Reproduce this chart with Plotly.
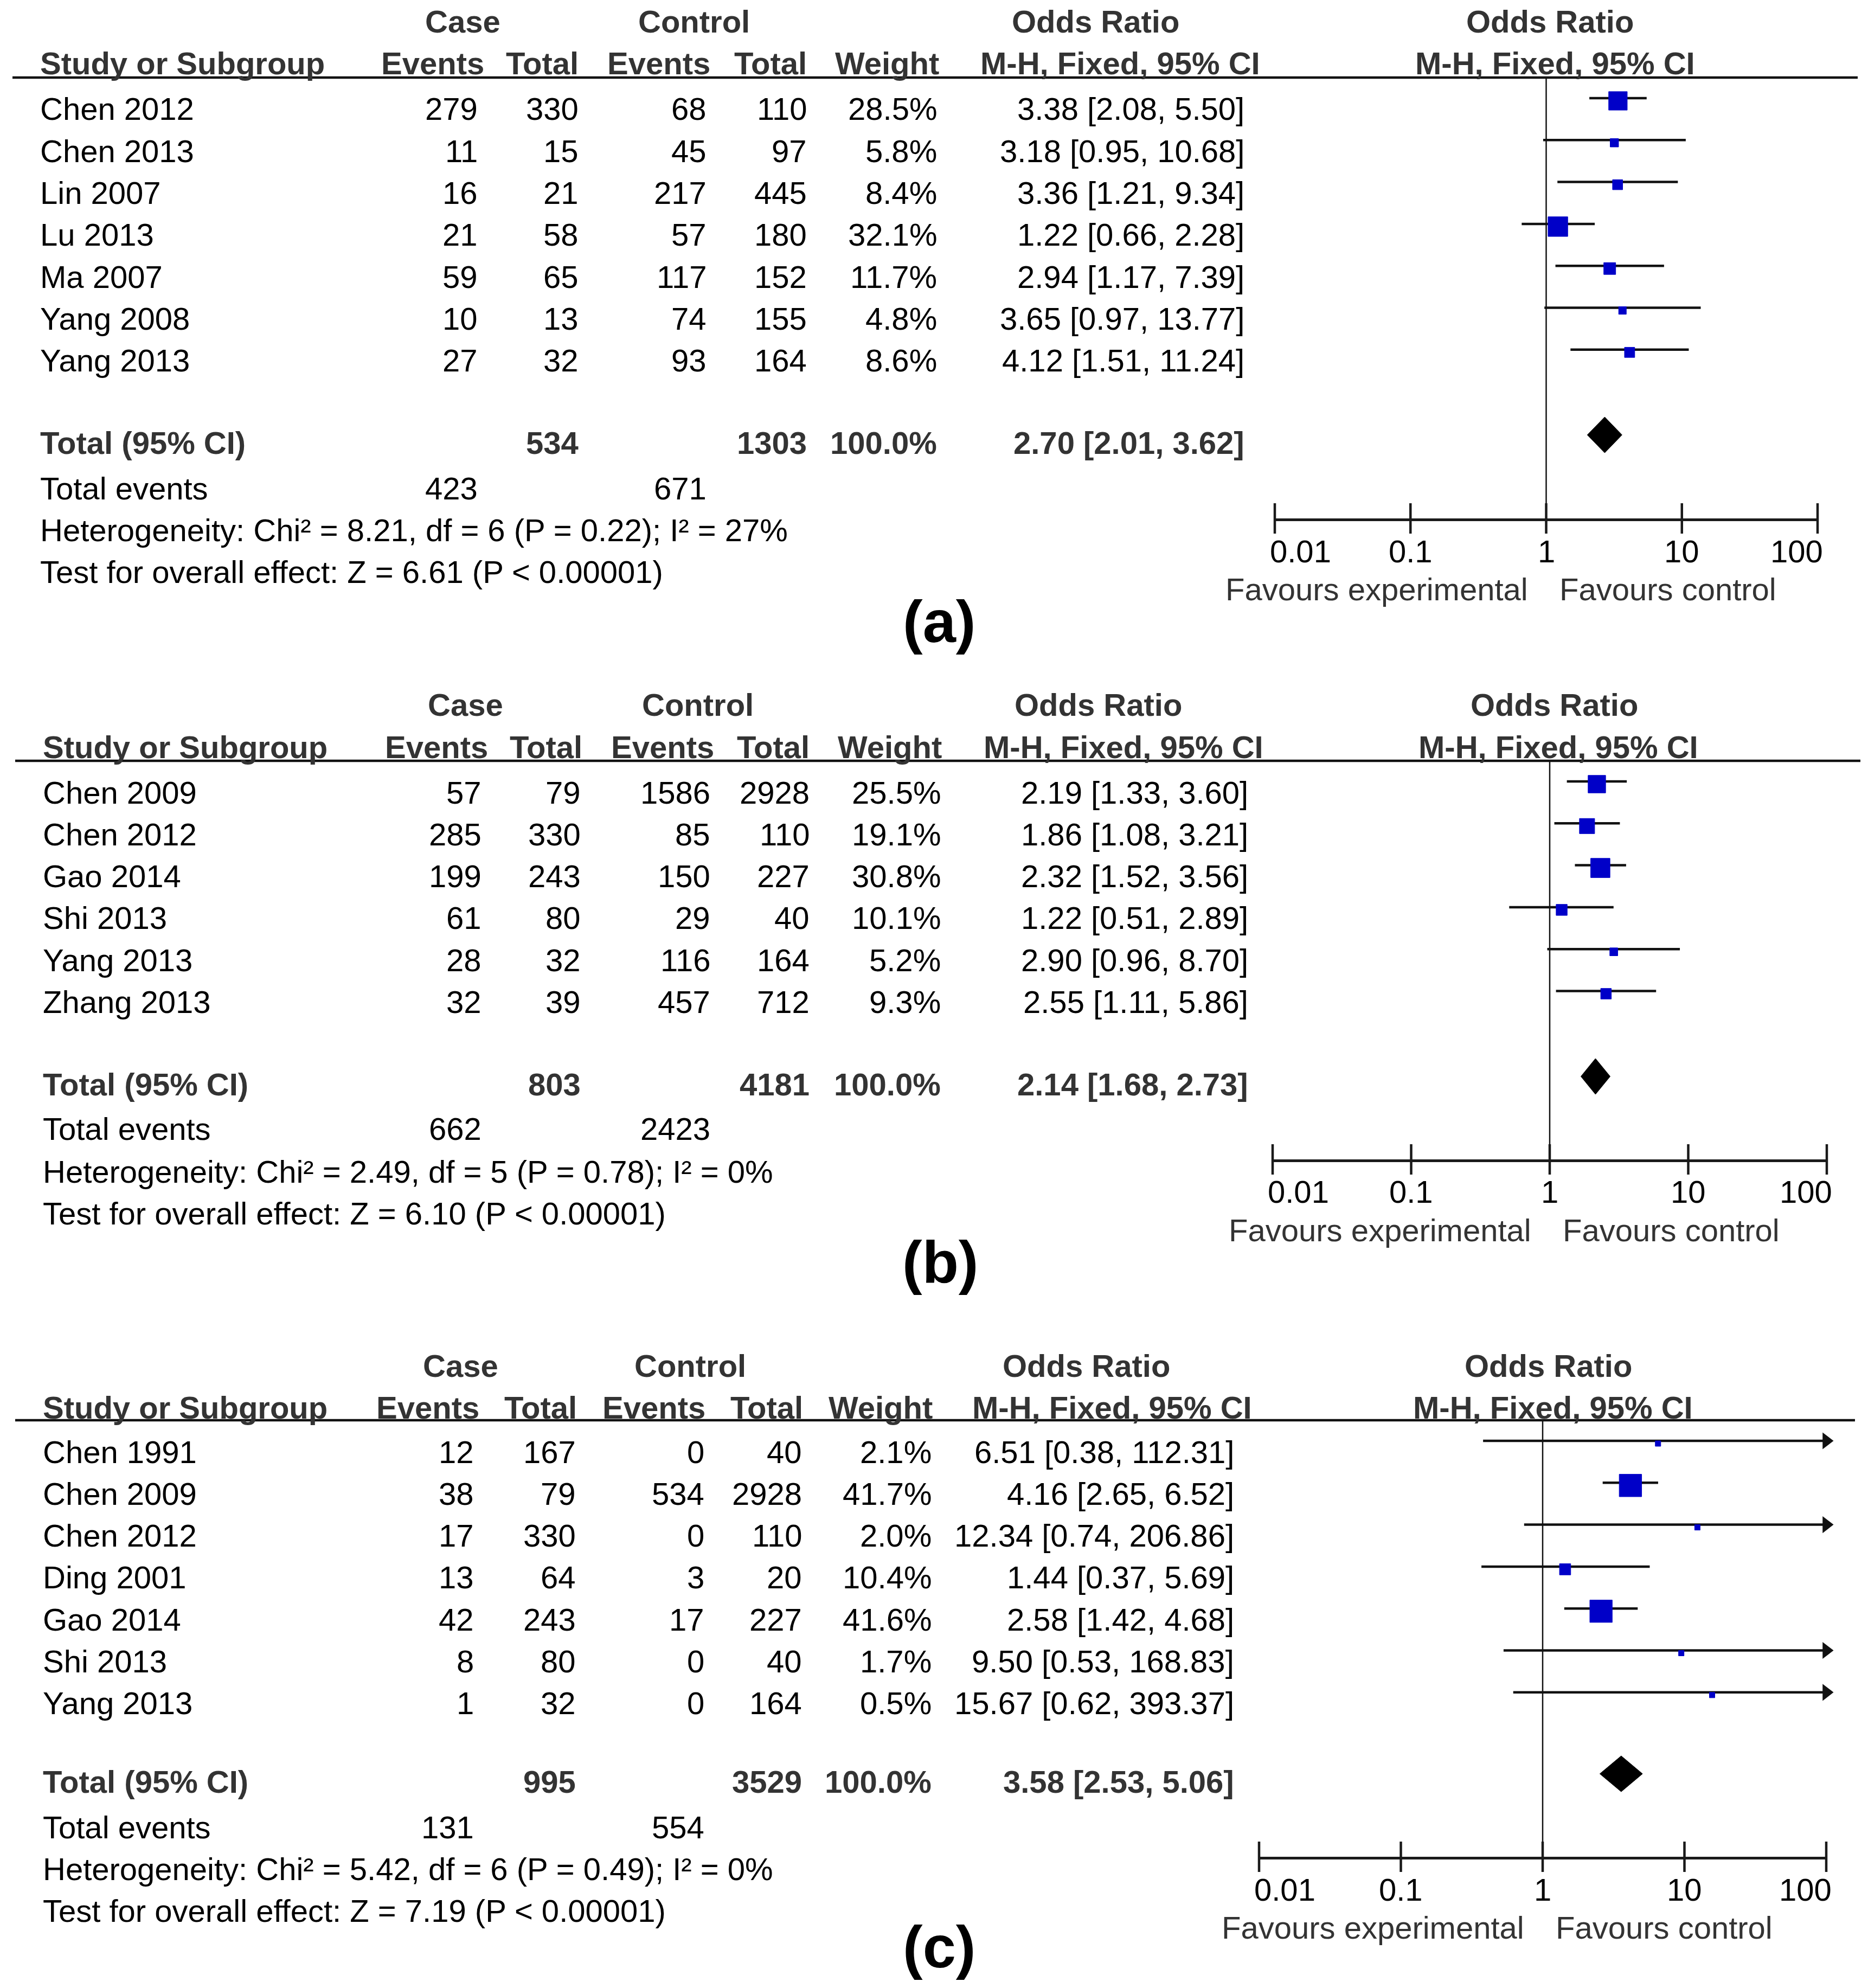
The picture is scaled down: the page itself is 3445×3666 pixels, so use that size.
import math
import plotly.graph_objects as go

W, H = 3445, 3666
OFF = 8  # page body margin compensation
FONT = "Liberation Sans, Arial, Helvetica, sans-serif"
FS = 58

# ---------------- data: panel (a) ----------------
a_study = ["Chen 2012", "Chen 2013", "Lin 2007", "Lu 2013", "Ma 2007", "Yang 2008", "Yang 2013"]
a_case_events = [279, 11, 16, 21, 59, 10, 27]
a_case_total = [330, 15, 21, 58, 65, 13, 32]
a_ctrl_events = [68, 45, 217, 57, 117, 74, 93]
a_ctrl_total = [110, 97, 445, 180, 152, 155, 164]
a_weight = [28.5, 5.8, 8.4, 32.1, 11.7, 4.8, 8.6]
a_or = [3.38, 3.18, 3.36, 1.22, 2.94, 3.65, 4.12]
a_lo = [2.08, 0.95, 1.21, 0.66, 1.17, 0.97, 1.51]
a_hi = [5.50, 10.68, 9.34, 2.28, 7.39, 13.77, 11.24]
a_sum_case_total, a_sum_ctrl_total = 534, 1303
a_sum_case_events, a_sum_ctrl_events = 423, 671
a_pooled = [2.70, 2.01, 3.62]
a_het = "Heterogeneity: Chi² = 8.21, df = 6 (P = 0.22); I² = 27%"
a_test = "Test for overall effect: Z = 6.61 (P < 0.00001)"

# ---------------- data: panel (b) ----------------
b_study = ["Chen 2009", "Chen 2012", "Gao 2014", "Shi 2013", "Yang 2013", "Zhang 2013"]
b_case_events = [57, 285, 199, 61, 28, 32]
b_case_total = [79, 330, 243, 80, 32, 39]
b_ctrl_events = [1586, 85, 150, 29, 116, 457]
b_ctrl_total = [2928, 110, 227, 40, 164, 712]
b_weight = [25.5, 19.1, 30.8, 10.1, 5.2, 9.3]
b_or = [2.19, 1.86, 2.32, 1.22, 2.90, 2.55]
b_lo = [1.33, 1.08, 1.52, 0.51, 0.96, 1.11]
b_hi = [3.60, 3.21, 3.56, 2.89, 8.70, 5.86]
b_sum_case_total, b_sum_ctrl_total = 803, 4181
b_sum_case_events, b_sum_ctrl_events = 662, 2423
b_pooled = [2.14, 1.68, 2.73]
b_het = "Heterogeneity: Chi² = 2.49, df = 5 (P = 0.78); I² = 0%"
b_test = "Test for overall effect: Z = 6.10 (P < 0.00001)"

# ---------------- data: panel (c) ----------------
c_study = ["Chen 1991", "Chen 2009", "Chen 2012", "Ding 2001", "Gao 2014", "Shi 2013", "Yang 2013"]
c_case_events = [12, 38, 17, 13, 42, 8, 1]
c_case_total = [167, 79, 330, 64, 243, 80, 32]
c_ctrl_events = [0, 534, 0, 3, 17, 0, 0]
c_ctrl_total = [40, 2928, 110, 20, 227, 40, 164]
c_weight = [2.1, 41.7, 2.0, 10.4, 41.6, 1.7, 0.5]
c_or = [6.51, 4.16, 12.34, 1.44, 2.58, 9.50, 15.67]
c_lo = [0.38, 2.65, 0.74, 0.37, 1.42, 0.53, 0.62]
c_hi = [112.31, 6.52, 206.86, 5.69, 4.68, 168.83, 393.37]
c_sum_case_total, c_sum_ctrl_total = 995, 3529
c_sum_case_events, c_sum_ctrl_events = 131, 554
c_pooled = [3.58, 2.53, 5.06]
c_het = "Heterogeneity: Chi² = 5.42, df = 6 (P = 0.49); I² = 0%"
c_test = "Test for overall effect: Z = 7.19 (P < 0.00001)"

tick_vals = [0.01, 0.1, 1, 10, 100]
tick_text = ["0.01", "0.1", "1", "10", "100"]
panel_labels = ["(a)", "(b)", "(c)"]

panels = [
    dict(study=a_study, ce=a_case_events, ct=a_case_total, cc=a_ctrl_events, ctt=a_ctrl_total,
         w=a_weight, orr=a_or, lo=a_lo, hi=a_hi, sct=a_sum_case_total, sctt=a_sum_ctrl_total,
         sce=a_sum_case_events, scc=a_sum_ctrl_events, pooled=a_pooled, het=a_het, test=a_test),
    dict(study=b_study, ce=b_case_events, ct=b_case_total, cc=b_ctrl_events, ctt=b_ctrl_total,
         w=b_weight, orr=b_or, lo=b_lo, hi=b_hi, sct=b_sum_case_total, sctt=b_sum_ctrl_total,
         sce=b_sum_case_events, scc=b_sum_ctrl_events, pooled=b_pooled, het=b_het, test=b_test),
    dict(study=c_study, ce=c_case_events, ct=c_case_total, cc=c_ctrl_events, ctt=c_ctrl_total,
         w=c_weight, orr=c_or, lo=c_lo, hi=c_hi, sct=c_sum_case_total, sctt=c_sum_ctrl_total,
         sce=c_sum_case_events, scc=c_sum_ctrl_events, pooled=c_pooled, het=c_het, test=c_test),
]

# ---------------- layout geometry (pixels) ----------------
SP = 77.3
GEO = [
    dict(h1=40, h2=117, line=143, r0=201, total=816, tev=900, het=977, test=1054, lab=1146,
         ybot=956, x001=2351, x100=3352, tick_y=1016, fav_y=1086, lx0=23, lx1=3426,
         name=72, ce=883, ct=1069, cc=1305, ctt=1490, w=1730, ci=2297,
         case_c=853, ctrl_c=1280, or1=2020, mh1=2066, or2=2858, mh2=2868,
         hce=895, hct=1069, hcc=1312, hctt=1490, hw=1734, lab_x=1732),
    dict(h1=1300, h2=1377, line=1403, r0=1461, total=1999, tev=2081, het=2160, test=2237, lab=2326,
         ybot=2138, x001=2347, x100=3369, tick_y=2197, fav_y=2268, lx0=28, lx1=3431,
         name=77, ce=890, ct=1073, cc=1312, ctt=1495, w=1737, ci=2304,
         case_c=858, ctrl_c=1287, or1=2025, mh1=2072, or2=2866, mh2=2874,
         hce=902, hct=1076, hcc=1319, hctt=1495, hw=1739, lab_x=1734),
    dict(h1=2518, h2=2595, line=2619, r0=2677, total=3285, tev=3369, het=3446, test=3523, lab=3589,
         ybot=3424, x001=2322, x100=3368, tick_y=3484, fav_y=3554, lx0=28, lx1=3421,
         name=77, ce=876, ct=1064, cc=1301, ctt=1481, w=1720, ci=2278,
         case_c=849, ctrl_c=1273, or1=2004, mh1=2051, or2=2855, mh2=2864,
         hce=886, hct=1066, hcc=1303, hctt=1483, hw=1722, lab_x=1732),
]

fig = go.Figure()
annotations = []
shapes = []


def px(x):
    return (x - OFF) / W


def py(y):
    return 1 - (y - OFF) / H


def txt(x, y, s, anchor="left", bold=False, color="#000000", size=FS):
    annotations.append(dict(
        x=px(x), y=py(y), xref="paper", yref="paper", text=(f"<b>{s}</b>" if bold else s),
        showarrow=False, xanchor=anchor, yanchor="middle",
        font=dict(family=FONT, size=size, color=color)))


HDR = "#333333"
BLUE = "rgb(0,0,200)"

for k, (P, G) in enumerate(zip(panels, GEO)):
    ax = "" if k == 0 else str(k + 1)
    xname, yname = "x" + ax, "y" + ax
    n = len(P["study"])
    f0 = G["r0"] - 20  # forest row 0 pixel

    def yv(pix):
        return (pix - f0) / SP

    # ---- headers ----
    txt(G["case_c"], G["h1"], "Case", "center", True, HDR)
    txt(G["ctrl_c"], G["h1"], "Control", "center", True, HDR)
    txt(G["or1"], G["h1"], "Odds Ratio", "center", True, HDR)
    txt(G["or2"], G["h1"], "Odds Ratio", "center", True, HDR)
    txt(G["name"], G["h2"], "Study or Subgroup", "left", True, HDR)
    txt(G["hce"], G["h2"], "Events", "right", True, HDR)
    txt(G["hct"], G["h2"], "Total", "right", True, HDR)
    txt(G["hcc"], G["h2"], "Events", "right", True, HDR)
    txt(G["hctt"], G["h2"], "Total", "right", True, HDR)
    txt(G["hw"], G["h2"], "Weight", "right", True, HDR)
    txt(G["mh1"], G["h2"], "M-H, Fixed, 95% CI", "center", True, HDR)
    txt(G["mh2"], G["h2"], "M-H, Fixed, 95% CI", "center", True, HDR)
    shapes.append(dict(type="line", xref="paper", yref="paper", x0=px(G["lx0"]), x1=px(G["lx1"]),
                       y0=py(G["line"]), y1=py(G["line"]), line=dict(color="#111111", width=4.5)))

    # ---- study rows ----
    for i in range(n):
        y = G["r0"] + i * SP
        txt(G["name"], y, P["study"][i])
        txt(G["ce"], y, str(P["ce"][i]), "right")
        txt(G["ct"], y, str(P["ct"][i]), "right")
        txt(G["cc"], y, str(P["cc"][i]), "right")
        txt(G["ctt"], y, str(P["ctt"][i]), "right")
        txt(G["w"], y, f"{P['w'][i]:.1f}%", "right")
        txt(G["ci"], y, f"{P['orr'][i]:.2f} [{P['lo'][i]:.2f}, {P['hi'][i]:.2f}]", "right")

    # ---- totals ----
    po, pl, ph = P["pooled"]
    txt(G["name"], G["total"], "Total (95% CI)", "left", True, HDR)
    txt(G["ct"], G["total"], str(P["sct"]), "right", True, HDR)
    txt(G["ctt"], G["total"], str(P["sctt"]), "right", True, HDR)
    txt(G["w"], G["total"], "100.0%", "right", True, HDR)
    txt(G["ci"], G["total"], f"{po:.2f} [{pl:.2f}, {ph:.2f}]", "right", True, HDR)
    txt(G["name"], G["tev"], "Total events")
    txt(G["ce"], G["tev"], str(P["sce"]), "right")
    txt(G["cc"], G["tev"], str(P["scc"]), "right")
    txt(G["name"], G["het"], P["het"])
    txt(G["name"], G["test"], P["test"])
    txt(G["lab_x"], G["lab"], panel_labels[k], "center", True, "#000000", 110)

    # ---- forest axes ----
    ytop_v, ybot_v = yv(G["line"]), yv(G["ybot"])
    fig.update_layout(**{
        ("xaxis" + ax): dict(domain=[px(G["x001"]), px(G["x100"])], type="log", range=[-2, 2],
                            showline=True, linewidth=4.5, linecolor="#1a1a1a", ticks="",
                            showticklabels=False, showgrid=False, zeroline=False, anchor=yname,
                            fixedrange=True),
        ("yaxis" + ax): dict(domain=[py(G["ybot"]), py(G["line"])], range=[ybot_v, ytop_v],
                            showline=False, ticks="", showticklabels=False, showgrid=False,
                            zeroline=False, anchor=xname, fixedrange=True),
    })

    # line of no effect
    fig.add_trace(go.Scatter(x=[1, 1], y=[ytop_v, ybot_v], mode="lines", xaxis=xname, yaxis=yname,
                             line=dict(color="#111111", width=2.5), hoverinfo="skip", showlegend=False))
    # CI lines
    cx, cy, arx, ary = [], [], [], []
    for i in range(n):
        hi = min(P["hi"][i], 100)
        cx += [max(P["lo"][i], 0.01), hi, None]
        cy += [i, i, None]
        if P["hi"][i] > 100:
            arx.append(100)
            ary.append(i)
    fig.add_trace(go.Scatter(x=cx, y=cy, mode="lines", xaxis=xname, yaxis=yname,
                             line=dict(color="#111111", width=4.5), hoverinfo="skip", showlegend=False))
    if arx:
        fig.add_trace(go.Scatter(x=arx, y=ary, mode="markers", xaxis=xname, yaxis=yname,
                                 marker=dict(symbol="triangle-right", size=27, color="#111111",
                                             opacity=1, line=dict(width=0)),
                                 cliponaxis=False, hoverinfo="skip", showlegend=False))
    # squares
    sizes = [max(10, 6.4 * math.sqrt(w)) for w in P["w"]]
    fig.add_trace(go.Scatter(x=P["orr"], y=[i + 5 / SP for i in range(n)], mode="markers",
                             xaxis=xname, yaxis=yname, opacity=1,
                             marker=dict(symbol="square", size=sizes, color=BLUE, opacity=1,
                                         line=dict(width=1, color=BLUE)),
                             cliponaxis=False, hoverinfo="skip", showlegend=False))
    # diamond
    t = yv(G["total"] - 14)
    d = 33 / SP
    fig.add_trace(go.Scatter(x=[pl, po, ph, po, pl], y=[t, t - d, t, t + d, t], mode="lines",
                             fill="toself", fillcolor="#000000", xaxis=xname, yaxis=yname,
                             line=dict(color="#000000", width=1), hoverinfo="skip", showlegend=False))
    # axis tick marks (crossing)
    fig.add_trace(go.Scatter(x=tick_vals, y=[ybot_v] * len(tick_vals), mode="markers",
                             xaxis=xname, yaxis=yname,
                             marker=dict(symbol="line-ns", size=40, color="#1a1a1a",
                                         line=dict(width=4.5, color="#1a1a1a")),
                             cliponaxis=False, hoverinfo="skip", showlegend=False))
    # tick labels
    for j, (v, s) in enumerate(zip(tick_vals, tick_text)):
        if j == 0:
            anc, sh = "left", -11
        elif j == len(tick_vals) - 1:
            anc, sh = "right", 12
        else:
            anc, sh = "center", 0
        annotations.append(dict(x=math.log10(v), y=py(G["tick_y"]), xref=xname, yref="paper",
                                text=s, showarrow=False, xanchor=anc, xshift=sh, yanchor="middle",
                                font=dict(family=FONT, size=FS, color="#000000")))
    annotations.append(dict(x=0, y=py(G["fav_y"]), xref=xname, yref="paper",
                            text="Favours experimental", showarrow=False, xanchor="right",
                            xshift=-32, yanchor="middle",
                            font=dict(family=FONT, size=FS, color="#333333")))
    annotations.append(dict(x=0, y=py(G["fav_y"]), xref=xname, yref="paper",
                            text="Favours control", showarrow=False, xanchor="left",
                            xshift=22, yanchor="middle",
                            font=dict(family=FONT, size=FS, color="#333333")))

fig.update_layout(width=W, height=H, margin=dict(l=0, r=0, t=0, b=0),
                  paper_bgcolor="white", plot_bgcolor="white", showlegend=False,
                  annotations=annotations, shapes=shapes)

fig.write_html("out.html")
